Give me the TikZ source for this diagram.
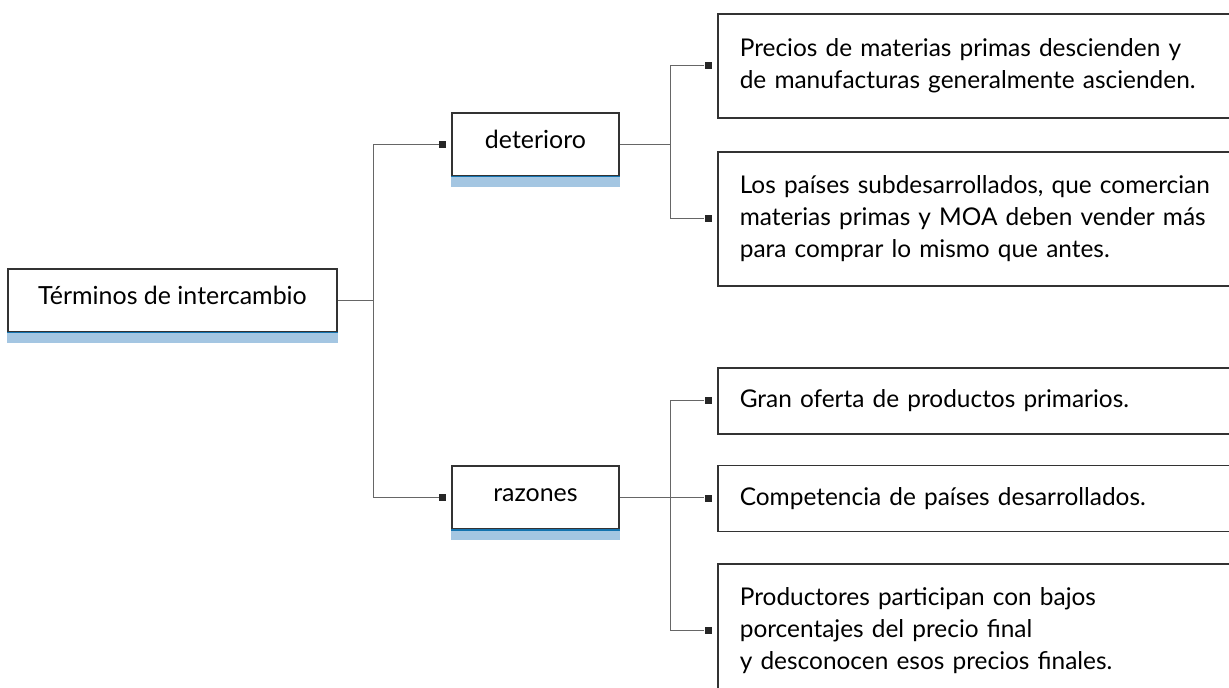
\documentclass[tikz,border=0pt]{standalone}
\usepackage{fontspec}
\setmainfont{Lato}
\usetikzlibrary{positioning}
\definecolor{barblue}{RGB}{164,198,226}
\definecolor{edgeblue}{RGB}{20,115,175}
\tikzset{
  mainbox/.style={draw=black!80, line width=0.9pt, fill=white, inner sep=0pt,
    minimum height=1.26cm, text height=10pt, text depth=6pt,
    font=\fontsize{14.2}{18}\selectfont},
  infobox/.style={draw=black!80, line width=0.9pt, inner xsep=0.44cm, inner ysep=0pt,
    anchor=north west, minimum width=11cm, text width=10.12cm, align=left,
    font=\fontsize{13.9}{18.1}\selectfont},
  link/.style={draw=black!60, line width=0.6pt},
  tip/.style={fill=black!85, inner sep=0pt, minimum size=0.14cm},
  bar/.style={fill=barblue},
}

\begin{document}
\begin{tikzpicture}[x=0.02cm, y=-0.02cm]
  \useasboundingbox (0,0) rectangle (1229,687);
  \clip (0,0) rectangle (1229,687);

  % left column
  \node[mainbox, minimum width=6.58cm] (root) at (172.5,300.5) {Términos de intercambio};
  \node[mainbox, minimum width=3.34cm] (det) at (535.5,144.5) {deterioro};
  \node[mainbox, minimum width=3.34cm] (raz) at (535.5,497.5) {razones};
  \foreach \n in {root,det,raz}{
    \fill[bar] (\n.south west) rectangle ([yshift=-0.2cm]\n.south east);
    \draw[edgeblue, line width=0.8pt] (\n.south west) -- (\n.south east);
  }

  % right column
  \node[infobox, minimum height=2.08cm] (d1) at (717,13)
    {Precios de materias primas descienden y\\de manufacturas generalmente ascienden.};
  \node[infobox, minimum height=2.68cm] (d2) at (717,151)
    {Los países subdesarrollados, que comercian\\materias primas y MOA deben vender más\\para comprar lo mismo que antes.};
  \node[infobox, minimum height=1.32cm] (r1) at (717,367) {Gran oferta de productos primarios.};
  \node[infobox, minimum height=1.32cm] (r2) at (717,464.5) {Competencia de países desarrollados.};
  \node[infobox, minimum height=2.68cm] (r3) at (717,563)
    {Productores participan con bajos\\porcentajes del precio final\\y desconocen esos precios finales.};

  % markers
  \foreach \n in {det,raz,d1,d2,r1,r2,r3}
    \node[tip, left=0.1cm of \n] (t\n) {};

  % connectors
  \draw[link] (root.east) -- ++(36,0) coordinate (hubA);
  \draw[link] (tdet.west) -| (hubA) |- (traz.west);
  \draw[link] (det.east) -- ++(51,0) coordinate (hubB);
  \draw[link] (td1.west) -| (hubB) |- (td2.west);
  \draw[link] (raz.east) -- (raz.east -| tr2.west);
  \path (raz.east) -- ++(51,0) coordinate (hubC);
  \draw[link] (tr1.west) -| (hubC) |- (tr3.west);
\end{tikzpicture}
\end{document}
